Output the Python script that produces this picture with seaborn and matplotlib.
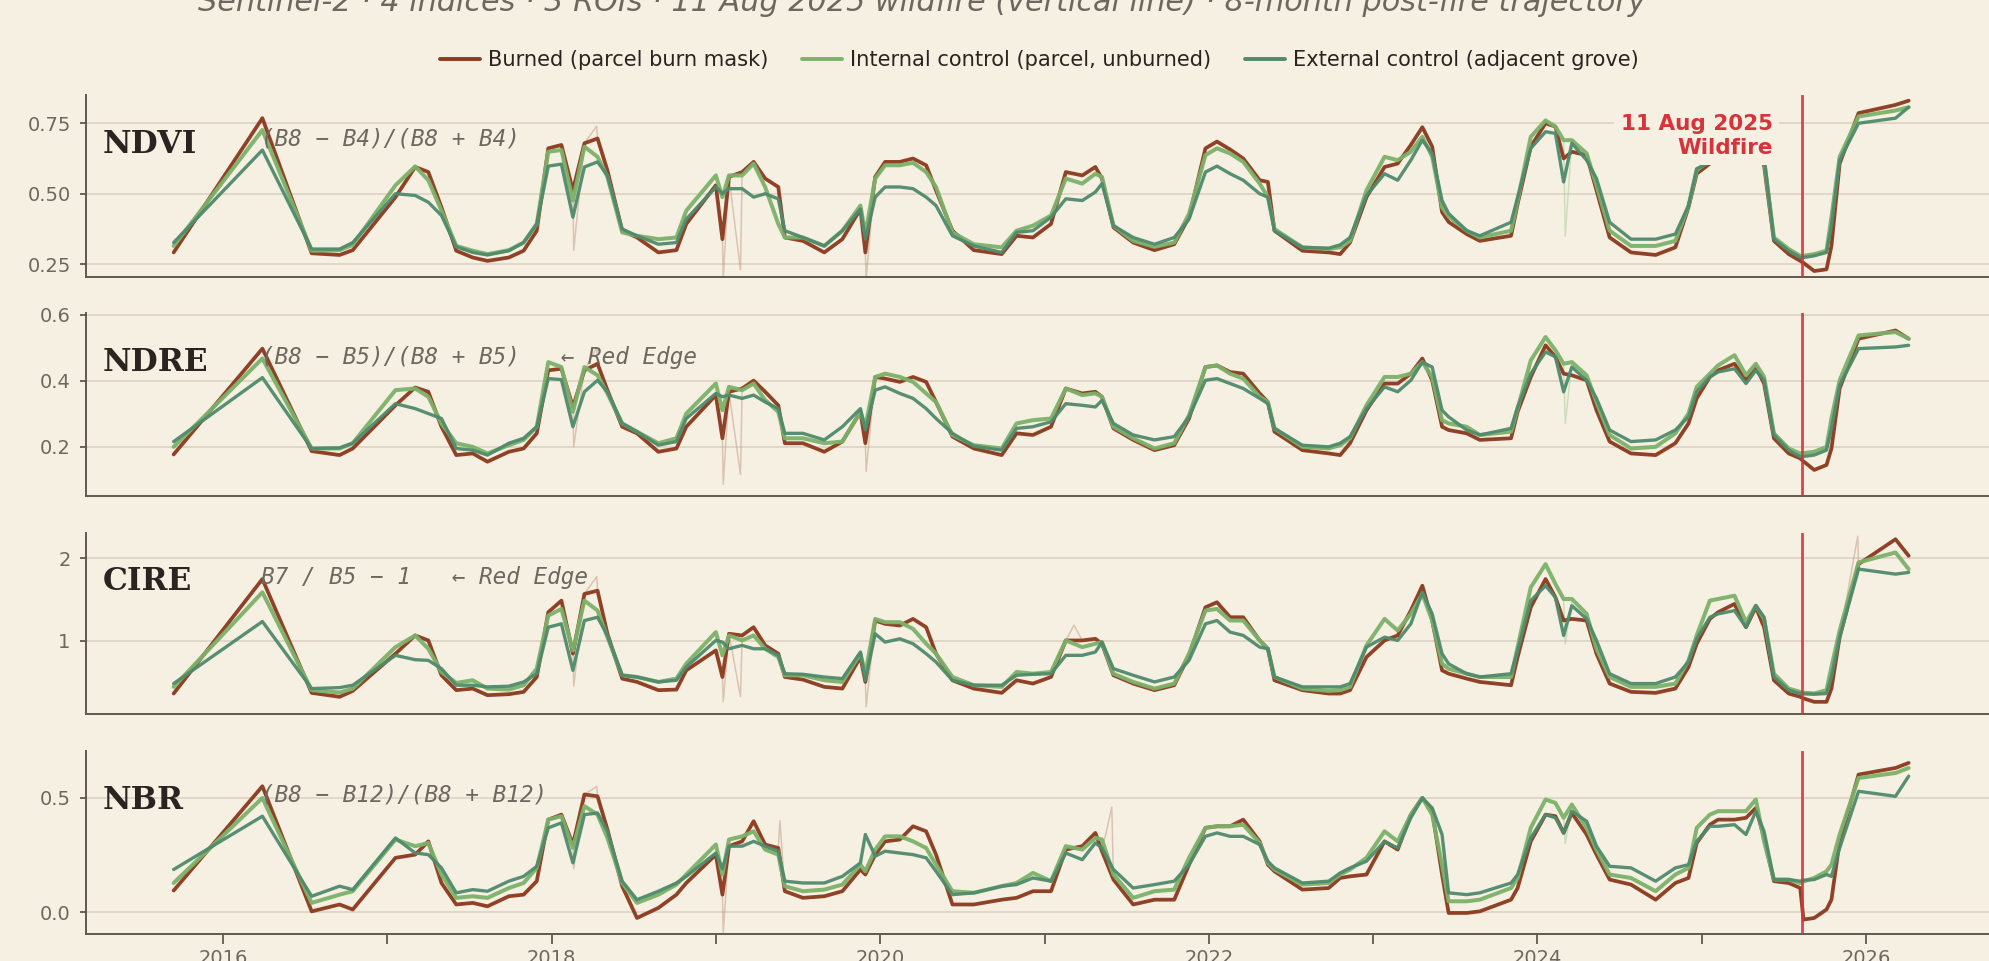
import pandas as pd
import matplotlib
matplotlib.use("Agg")
import matplotlib.pyplot as plt
import matplotlib.dates as mdates
import matplotlib.transforms as mtransforms
from matplotlib.lines import Line2D
import seaborn as sns

# ---------------------------------------------------------------- data
years = [
    2015.70, 2016.24, 2016.54, 2016.71, 2016.79, 2017.05, 2017.17, 2017.25, 2017.33, 2017.42,
    2017.52, 2017.61, 2017.74, 2017.83, 2017.91, 2017.98, 2018.06, 2018.13, 2018.20, 2018.28,
    2018.34, 2018.43, 2018.52, 2018.65, 2018.76, 2018.82, 2019.00, 2019.04, 2019.08, 2019.16,
    2019.23, 2019.30, 2019.38, 2019.42, 2019.53, 2019.66, 2019.77, 2019.88, 2019.91, 2019.97,
    2020.03, 2020.12, 2020.20, 2020.28, 2020.34, 2020.44, 2020.57, 2020.74, 2020.83, 2020.93,
    2021.04, 2021.13, 2021.23, 2021.31, 2021.35, 2021.42, 2021.54, 2021.67, 2021.79, 2021.88,
    2021.98, 2022.05, 2022.13, 2022.21, 2022.31, 2022.36, 2022.40, 2022.57, 2022.73, 2022.80,
    2022.86, 2022.96, 2023.07, 2023.15, 2023.23, 2023.30, 2023.36, 2023.42, 2023.46, 2023.57,
    2023.65, 2023.84, 2023.88, 2023.96, 2024.05, 2024.11, 2024.16, 2024.21, 2024.30, 2024.36,
    2024.44, 2024.57, 2024.72, 2024.84, 2024.92, 2024.97, 2025.05, 2025.10, 2025.20, 2025.27,
    2025.33, 2025.38, 2025.44, 2025.53, 2025.60, 2025.62, 2025.685, 2025.76, 2025.79, 2025.84,
    2025.955, 2026.18, 2026.26,
]

ndvi_burned = [
    0.292, 0.768, 0.289, 0.283, 0.300, 0.488, 0.595, 0.577, 0.452, 0.298,
    0.274, 0.262, 0.274, 0.298, 0.369, 0.661, 0.673, 0.512, 0.679, 0.696,
    0.583, 0.369, 0.345, 0.292, 0.300, 0.393, 0.530, 0.339, 0.560, 0.577,
    0.613, 0.554, 0.524, 0.345, 0.333, 0.292, 0.339, 0.446, 0.292, 0.560,
    0.613, 0.613, 0.625, 0.601, 0.512, 0.369, 0.300, 0.286, 0.351, 0.345,
    0.393, 0.577, 0.565, 0.595, 0.554, 0.381, 0.327, 0.300, 0.321, 0.417,
    0.661, 0.685, 0.657, 0.625, 0.548, 0.542, 0.369, 0.298, 0.292, 0.286,
    0.327, 0.488, 0.595, 0.607, 0.673, 0.736, 0.667, 0.435, 0.400, 0.357,
    0.333, 0.351, 0.464, 0.667, 0.750, 0.738, 0.625, 0.649, 0.637, 0.512,
    0.345, 0.292, 0.283, 0.310, 0.452, 0.571, 0.607, 0.630, 0.680, 0.630,
    0.670, 0.600, 0.333, 0.286, 0.262, 0.255, 0.226, 0.232, 0.315, 0.607,
    0.786, 0.815, 0.830,
]
ndvi_internal = [
    0.315, 0.726, 0.298, 0.300, 0.319, 0.530, 0.597, 0.548, 0.440, 0.315,
    0.298, 0.286, 0.300, 0.327, 0.393, 0.649, 0.655, 0.476, 0.667, 0.631,
    0.560, 0.363, 0.351, 0.339, 0.345, 0.440, 0.565, 0.488, 0.565, 0.565,
    0.607, 0.524, 0.393, 0.345, 0.345, 0.315, 0.369, 0.458, 0.357, 0.554,
    0.601, 0.601, 0.610, 0.577, 0.524, 0.363, 0.321, 0.310, 0.369, 0.387,
    0.423, 0.554, 0.536, 0.571, 0.560, 0.387, 0.333, 0.312, 0.327, 0.429,
    0.637, 0.661, 0.643, 0.613, 0.536, 0.488, 0.375, 0.310, 0.304, 0.310,
    0.333, 0.512, 0.631, 0.619, 0.649, 0.702, 0.631, 0.452, 0.420, 0.369,
    0.345, 0.369, 0.476, 0.702, 0.760, 0.738, 0.690, 0.690, 0.643, 0.530,
    0.369, 0.315, 0.315, 0.333, 0.458, 0.583, 0.620, 0.650, 0.700, 0.640,
    0.690, 0.620, 0.345, 0.304, 0.280, 0.280, 0.286, 0.298, 0.417, 0.631,
    0.774, 0.795, 0.807,
]
ndvi_external = [
    0.327, 0.655, 0.304, 0.304, 0.327, 0.500, 0.494, 0.470, 0.423, 0.312,
    0.292, 0.283, 0.298, 0.327, 0.393, 0.598, 0.605, 0.417, 0.595, 0.613,
    0.565, 0.375, 0.351, 0.321, 0.327, 0.410, 0.524, 0.500, 0.518, 0.518,
    0.488, 0.500, 0.482, 0.369, 0.345, 0.315, 0.369, 0.446, 0.339, 0.488,
    0.524, 0.524, 0.518, 0.488, 0.458, 0.351, 0.315, 0.292, 0.363, 0.369,
    0.417, 0.482, 0.476, 0.506, 0.536, 0.387, 0.345, 0.321, 0.345, 0.410,
    0.577, 0.598, 0.571, 0.548, 0.500, 0.488, 0.369, 0.310, 0.307, 0.319,
    0.345, 0.494, 0.571, 0.548, 0.619, 0.690, 0.643, 0.476, 0.430, 0.369,
    0.351, 0.399, 0.488, 0.661, 0.720, 0.714, 0.542, 0.679, 0.619, 0.554,
    0.399, 0.339, 0.339, 0.357, 0.458, 0.589, 0.610, 0.640, 0.670, 0.630,
    0.670, 0.630, 0.339, 0.298, 0.274, 0.274, 0.280, 0.292, 0.387, 0.619,
    0.750, 0.768, 0.807,
]

ndre_burned = [
    0.176, 0.497, 0.186, 0.174, 0.194, 0.325, 0.379, 0.366, 0.260, 0.174,
    0.179, 0.154, 0.184, 0.194, 0.240, 0.431, 0.436, 0.320, 0.431, 0.451,
    0.371, 0.260, 0.240, 0.184, 0.194, 0.260, 0.356, 0.225, 0.366, 0.376,
    0.400, 0.366, 0.325, 0.210, 0.210, 0.184, 0.215, 0.305, 0.210, 0.411,
    0.406, 0.396, 0.411, 0.396, 0.335, 0.230, 0.194, 0.174, 0.240, 0.235,
    0.260, 0.376, 0.361, 0.366, 0.351, 0.255, 0.220, 0.189, 0.204, 0.285,
    0.441, 0.446, 0.426, 0.421, 0.361, 0.335, 0.245, 0.189, 0.179, 0.174,
    0.210, 0.310, 0.391, 0.391, 0.421, 0.467, 0.401, 0.260, 0.250, 0.240,
    0.220, 0.225, 0.305, 0.411, 0.507, 0.472, 0.421, 0.416, 0.401, 0.310,
    0.215, 0.179, 0.174, 0.210, 0.270, 0.346, 0.411, 0.431, 0.451, 0.401,
    0.441, 0.391, 0.225, 0.179, 0.164, 0.155, 0.129, 0.144, 0.194, 0.376,
    0.527, 0.552, 0.527,
]
ndre_internal = [
    0.199, 0.467, 0.194, 0.194, 0.210, 0.371, 0.376, 0.351, 0.270, 0.210,
    0.199, 0.179, 0.204, 0.220, 0.260, 0.456, 0.441, 0.305, 0.441, 0.416,
    0.361, 0.270, 0.245, 0.210, 0.225, 0.300, 0.391, 0.310, 0.381, 0.371,
    0.391, 0.341, 0.305, 0.225, 0.225, 0.210, 0.215, 0.305, 0.260, 0.411,
    0.421, 0.411, 0.396, 0.361, 0.335, 0.235, 0.204, 0.194, 0.270, 0.280,
    0.285, 0.376, 0.356, 0.361, 0.351, 0.260, 0.225, 0.194, 0.210, 0.295,
    0.441, 0.446, 0.421, 0.406, 0.351, 0.335, 0.255, 0.199, 0.194, 0.204,
    0.225, 0.325, 0.411, 0.411, 0.421, 0.456, 0.411, 0.280, 0.270, 0.260,
    0.235, 0.245, 0.315, 0.461, 0.532, 0.492, 0.451, 0.456, 0.416, 0.335,
    0.235, 0.194, 0.199, 0.240, 0.300, 0.381, 0.421, 0.446, 0.477, 0.416,
    0.451, 0.411, 0.240, 0.194, 0.179, 0.180, 0.184, 0.199, 0.285, 0.401,
    0.537, 0.547, 0.527,
]
ndre_external = [
    0.215, 0.409, 0.194, 0.196, 0.210, 0.330, 0.315, 0.300, 0.285, 0.194,
    0.189, 0.174, 0.210, 0.225, 0.260, 0.406, 0.403, 0.260, 0.366, 0.401,
    0.366, 0.270, 0.245, 0.204, 0.215, 0.285, 0.361, 0.351, 0.356, 0.346,
    0.356, 0.335, 0.315, 0.240, 0.240, 0.220, 0.260, 0.315, 0.250, 0.371,
    0.381, 0.361, 0.346, 0.315, 0.285, 0.240, 0.201, 0.189, 0.255, 0.260,
    0.275, 0.330, 0.325, 0.320, 0.340, 0.270, 0.235, 0.220, 0.230, 0.290,
    0.401, 0.406, 0.391, 0.376, 0.346, 0.330, 0.255, 0.204, 0.199, 0.210,
    0.230, 0.315, 0.381, 0.366, 0.401, 0.456, 0.441, 0.310, 0.290, 0.250,
    0.235, 0.255, 0.320, 0.421, 0.487, 0.472, 0.366, 0.441, 0.401, 0.346,
    0.250, 0.215, 0.220, 0.250, 0.290, 0.366, 0.411, 0.426, 0.436, 0.391,
    0.431, 0.401, 0.235, 0.189, 0.169, 0.170, 0.174, 0.189, 0.255, 0.386,
    0.497, 0.502, 0.507,
]

cire_burned = [
    0.359, 1.750, 0.367, 0.319, 0.391, 0.843, 1.065, 1.004, 0.581, 0.400,
    0.419, 0.339, 0.351, 0.379, 0.560, 1.347, 1.488, 0.843, 1.569, 1.609,
    1.085, 0.540, 0.500, 0.400, 0.407, 0.641, 0.883, 0.560, 1.085, 1.065,
    1.165, 0.944, 0.843, 0.560, 0.528, 0.440, 0.419, 0.802, 0.500, 1.246,
    1.206, 1.185, 1.266, 1.165, 0.843, 0.520, 0.419, 0.367, 0.520, 0.480,
    0.560, 1.004, 1.004, 1.024, 0.964, 0.581, 0.480, 0.400, 0.460, 0.823,
    1.407, 1.468, 1.286, 1.286, 1.004, 0.903, 0.520, 0.400, 0.359, 0.359,
    0.400, 0.802, 1.004, 1.065, 1.367, 1.669, 1.246, 0.641, 0.600, 0.540,
    0.500, 0.460, 0.802, 1.407, 1.750, 1.528, 1.246, 1.266, 1.246, 0.843,
    0.480, 0.379, 0.367, 0.419, 0.681, 0.964, 1.266, 1.347, 1.448, 1.165,
    1.407, 1.165, 0.520, 0.359, 0.319, 0.300, 0.258, 0.258, 0.419, 1.044,
    1.931, 2.234, 2.032,
]
cire_internal = [
    0.440, 1.589, 0.400, 0.371, 0.419, 0.923, 1.065, 0.903, 0.621, 0.488,
    0.520, 0.419, 0.407, 0.460, 0.661, 1.306, 1.387, 0.883, 1.488, 1.367,
    1.044, 0.581, 0.560, 0.500, 0.540, 0.722, 1.105, 0.823, 1.065, 1.004,
    1.065, 0.903, 0.802, 0.581, 0.581, 0.520, 0.500, 0.843, 0.600, 1.266,
    1.226, 1.226, 1.145, 0.964, 0.843, 0.560, 0.460, 0.440, 0.621, 0.600,
    0.621, 1.004, 0.923, 0.964, 0.984, 0.600, 0.500, 0.419, 0.480, 0.843,
    1.367, 1.387, 1.246, 1.246, 1.004, 0.903, 0.560, 0.419, 0.391, 0.400,
    0.440, 0.944, 1.266, 1.125, 1.327, 1.569, 1.246, 0.722, 0.660, 0.600,
    0.560, 0.560, 0.923, 1.649, 1.931, 1.690, 1.508, 1.508, 1.327, 0.903,
    0.560, 0.440, 0.440, 0.480, 0.762, 1.065, 1.488, 1.508, 1.548, 1.226,
    1.427, 1.266, 0.600, 0.419, 0.379, 0.370, 0.359, 0.400, 0.681, 1.125,
    1.952, 2.073, 1.871,
]
cire_external = [
    0.480, 1.234, 0.419, 0.431, 0.460, 0.823, 0.770, 0.762, 0.661, 0.460,
    0.460, 0.440, 0.448, 0.500, 0.600, 1.165, 1.206, 0.641, 1.246, 1.286,
    1.065, 0.581, 0.560, 0.500, 0.520, 0.681, 1.004, 0.984, 0.903, 0.944,
    0.903, 0.903, 0.823, 0.600, 0.593, 0.560, 0.540, 0.863, 0.520, 1.085,
    0.984, 1.024, 0.964, 0.843, 0.742, 0.520, 0.460, 0.460, 0.581, 0.593,
    0.600, 0.823, 0.823, 0.863, 0.984, 0.661, 0.581, 0.500, 0.560, 0.762,
    1.206, 1.246, 1.105, 1.065, 0.923, 0.903, 0.560, 0.440, 0.440, 0.440,
    0.480, 0.923, 1.044, 1.004, 1.206, 1.589, 1.327, 0.843, 0.720, 0.600,
    0.560, 0.600, 0.883, 1.488, 1.669, 1.528, 1.065, 1.427, 1.266, 1.004,
    0.600, 0.480, 0.480, 0.560, 0.742, 1.024, 1.286, 1.327, 1.367, 1.165,
    1.427, 1.286, 0.560, 0.400, 0.359, 0.355, 0.351, 0.359, 0.560, 1.044,
    1.871, 1.810, 1.831,
]

nbr_burned = [
    0.095, 0.551, 0.004, 0.034, 0.012, 0.238, 0.252, 0.310, 0.128, 0.034,
    0.041, 0.026, 0.070, 0.077, 0.136, 0.405, 0.427, 0.296, 0.515, 0.507,
    0.362, 0.114, -0.025, 0.019, 0.077, 0.128, 0.252, 0.077, 0.289, 0.310,
    0.398, 0.296, 0.281, 0.092, 0.063, 0.070, 0.092, 0.187, 0.165, 0.252,
    0.310, 0.318, 0.376, 0.354, 0.252, 0.034, 0.034, 0.055, 0.063, 0.092,
    0.092, 0.274, 0.289, 0.347, 0.267, 0.143, 0.034, 0.055, 0.055, 0.208,
    0.369, 0.376, 0.376, 0.405, 0.310, 0.208, 0.179, 0.099, 0.106, 0.150,
    0.157, 0.165, 0.310, 0.274, 0.427, 0.500, 0.442, 0.165, -0.003, -0.003,
    0.004, 0.055, 0.106, 0.310, 0.427, 0.420, 0.347, 0.434, 0.340, 0.252,
    0.143, 0.121, 0.055, 0.128, 0.150, 0.303, 0.383, 0.405, 0.405, 0.413,
    0.456, 0.325, 0.136, 0.128, 0.106, -0.032, -0.025, 0.012, 0.055, 0.310,
    0.602, 0.631, 0.653,
]
nbr_internal = [
    0.128, 0.500, 0.041, 0.077, 0.092, 0.318, 0.289, 0.303, 0.165, 0.063,
    0.070, 0.063, 0.106, 0.128, 0.194, 0.405, 0.420, 0.281, 0.464, 0.427,
    0.325, 0.128, 0.041, 0.077, 0.121, 0.165, 0.296, 0.165, 0.318, 0.332,
    0.354, 0.274, 0.252, 0.114, 0.092, 0.099, 0.121, 0.208, 0.179, 0.274,
    0.332, 0.332, 0.310, 0.281, 0.208, 0.092, 0.085, 0.114, 0.128, 0.172,
    0.136, 0.289, 0.274, 0.325, 0.318, 0.165, 0.063, 0.092, 0.099, 0.238,
    0.369, 0.376, 0.376, 0.383, 0.303, 0.216, 0.187, 0.121, 0.128, 0.165,
    0.187, 0.238, 0.354, 0.310, 0.427, 0.500, 0.427, 0.208, 0.048, 0.048,
    0.055, 0.106, 0.150, 0.369, 0.493, 0.478, 0.413, 0.471, 0.369, 0.274,
    0.165, 0.150, 0.092, 0.165, 0.194, 0.369, 0.427, 0.442, 0.442, 0.442,
    0.493, 0.310, 0.143, 0.143, 0.128, 0.135, 0.150, 0.179, 0.208, 0.340,
    0.587, 0.609, 0.631,
]
nbr_external = [
    0.187, 0.420, 0.070, 0.114, 0.099, 0.325, 0.259, 0.252, 0.194, 0.085,
    0.099, 0.092, 0.136, 0.157, 0.201, 0.369, 0.391, 0.216, 0.427, 0.434,
    0.354, 0.136, 0.055, 0.092, 0.128, 0.157, 0.259, 0.190, 0.289, 0.289,
    0.310, 0.289, 0.267, 0.136, 0.128, 0.128, 0.157, 0.216, 0.340, 0.245,
    0.267, 0.259, 0.252, 0.238, 0.179, 0.077, 0.085, 0.114, 0.121, 0.150,
    0.136, 0.259, 0.230, 0.303, 0.281, 0.187, 0.106, 0.121, 0.136, 0.208,
    0.332, 0.347, 0.332, 0.332, 0.296, 0.223, 0.194, 0.128, 0.136, 0.172,
    0.194, 0.223, 0.310, 0.281, 0.413, 0.500, 0.456, 0.340, 0.085, 0.077,
    0.085, 0.128, 0.165, 0.325, 0.427, 0.413, 0.347, 0.442, 0.398, 0.289,
    0.201, 0.194, 0.136, 0.194, 0.208, 0.310, 0.376, 0.376, 0.383, 0.340,
    0.442, 0.354, 0.143, 0.143, 0.136, 0.140, 0.143, 0.165, 0.157, 0.281,
    0.529, 0.507, 0.595,
]

# single-scene outliers seen in the faint raw traces
ndvi_spike_years = [2018.135, 2018.275, 2019.045, 2019.15, 2019.915]
ndvi_spike_vals = [0.30, 0.74, 0.20, 0.23, 0.20]
ndre_spike_years = [2018.135, 2018.275, 2019.045, 2019.15, 2019.915]
ndre_spike_vals = [0.20, 0.50, 0.085, 0.115, 0.125]
cire_spike_years = [2018.135, 2018.275, 2019.045, 2019.15, 2019.915, 2021.18, 2025.95]
cire_spike_vals = [0.45, 1.78, 0.26, 0.32, 0.20, 1.19, 2.27]
nbr_spike_years = [2018.135, 2018.275, 2019.045, 2019.39, 2021.41]
nbr_spike_vals = [0.19, 0.55, -0.09, 0.40, 0.46]

ctrl_spike_years = [2024.17]
ndvi_ctrl_spike = [0.35]
ndre_ctrl_spike = [0.27]
cire_ctrl_spike = [0.96]
nbr_ctrl_spike = [0.30]

roi_labels = ["Burned (parcel burn mask)", "Internal control (parcel, unburned)",
              "External control (adjacent grove)"]
index_names = ["NDVI", "NDRE", "CIRE", "NBR"]
formulas = ["(B8 − B4)/(B8 + B4)", "(B8 − B5)/(B8 + B5)   ← Red Edge",
            "B7 / B5 − 1   ← Red Edge", "(B8 − B12)/(B8 + B12)"]
ylims = [(0.205, 0.85), (0.05, 0.605), (0.11, 2.31), (-0.095, 0.705)]
yticks = [[0.25, 0.50, 0.75], [0.2, 0.4, 0.6], [1, 2], [0.0, 0.5]]
fire_year = 2025.61

# ---------------------------------------------------------------- style
BG = "#f6f0e3"
GRID = "#dcd3c3"
SPINE = "#5f5951"
MUTED = "#6d675f"
INK = "#2a2420"
RED = "#d7333a"
palette = {roi_labels[0]: "#8b3a1e", roi_labels[1]: "#7db26a", roi_labels[2]: "#4f8a6c"}
widths = {roi_labels[0]: 2.7, roi_labels[1]: 2.9, roi_labels[2]: 2.4}

sns.set_theme(style="white", rc={"axes.facecolor": BG, "figure.facecolor": BG})
plt.rcParams["font.family"] = ["DejaVu Sans"]


def to_dates(ys):
    base = pd.Timestamp("2015-01-01")
    return [base + pd.Timedelta(days=(y - 2015) * 365.25) for y in ys]


dates = to_dates(years)
fire_date = to_dates([fire_year])[0]

series = {
    "NDVI": (ndvi_burned, ndvi_internal, ndvi_external, ndvi_spike_years, ndvi_spike_vals, ndvi_ctrl_spike),
    "NDRE": (ndre_burned, ndre_internal, ndre_external, ndre_spike_years, ndre_spike_vals, ndre_ctrl_spike),
    "CIRE": (cire_burned, cire_internal, cire_external, cire_spike_years, cire_spike_vals, cire_ctrl_spike),
    "NBR": (nbr_burned, nbr_internal, nbr_external, nbr_spike_years, nbr_spike_vals, nbr_ctrl_spike),
}

fig = plt.figure(figsize=(19.89, 9.61), dpi=100)
panel_boxes = [(0.7118, 0.1893), (0.4839, 0.1904), (0.2570, 0.1884), (0.0281, 0.1904)]

axes = []
for i, name in enumerate(index_names):
    bottom, height = panel_boxes[i]
    ax = fig.add_axes([0.0432, bottom, 0.9568, height], sharex=axes[0] if axes else None)
    axes.append(ax)
    burned, internal, external, spk_y, spk_v, ctrl_spk = series[name]

    # faint raw traces
    raw_b = pd.DataFrame({"date": dates + to_dates(spk_y), "value": burned + spk_v})
    raw_i = pd.DataFrame({"date": dates + to_dates(ctrl_spike_years), "value": internal + ctrl_spk})
    sns.lineplot(data=raw_b, x="date", y="value", estimator=None, color="#c4a088",
                 lw=1.1, alpha=0.55, ax=ax, zorder=1)
    sns.lineplot(data=raw_i, x="date", y="value", estimator=None, color="#9cc98c",
                 lw=1.1, alpha=0.45, ax=ax, zorder=1)

    df = pd.DataFrame({
        "date": dates * 3,
        "value": burned + internal + external,
        "roi": [roi_labels[0]] * len(dates) + [roi_labels[1]] * len(dates) + [roi_labels[2]] * len(dates),
    })
    for roi in roi_labels:
        sns.lineplot(data=df[df["roi"] == roi], x="date", y="value", estimator=None,
                     color=palette[roi], lw=widths[roi], alpha=0.95, ax=ax, zorder=3)

    ax.axvline(fire_date, color=RED, lw=2.0, alpha=0.9, zorder=5)

    ax.set_ylim(*ylims[i])
    ax.set_yticks(yticks[i])
    ax.set_xlabel("")
    ax.set_ylabel("")
    ax.grid(axis="y", color=GRID, lw=1.2)
    ax.set_axisbelow(True)
    for s in ["top", "right"]:
        ax.spines[s].set_visible(False)
    for s in ["left", "bottom"]:
        ax.spines[s].set_color(SPINE)
        ax.spines[s].set_linewidth(1.4)
    ax.tick_params(axis="y", length=4, width=1.3, color=SPINE, labelsize=14,
                   labelcolor=MUTED, pad=7, left=True)

    ax.text(0.009, 0.815, name, transform=ax.transAxes, ha="left", va="top",
            fontsize=22.5, fontweight="bold", family="DejaVu Serif", color=INK, zorder=6)
    ax.text(0.092, 0.82, formulas[i], transform=ax.transAxes, ha="left", va="top",
            fontsize=16.3, style="italic", family="DejaVu Sans Mono", color=MUTED, zorder=6)

for ax in axes[:-1]:
    ax.tick_params(axis="x", bottom=False, labelbottom=False)

bx = axes[-1]
bx.set_xlim(to_dates([2015.166])[0], to_dates([2026.749])[0])
bx.xaxis.set_major_locator(mdates.YearLocator(2))
bx.xaxis.set_major_formatter(mdates.DateFormatter("%Y"))
bx.xaxis.set_minor_locator(mdates.YearLocator(1))
bx.tick_params(axis="x", which="both", bottom=True, length=7, width=1.3, color=SPINE,
               labelsize=14, labelcolor=MUTED, pad=4)

# wildfire label on top panel
top = axes[0]
trans = mtransforms.blended_transform_factory(top.transData, top.transAxes)
top.annotate("11 Aug 2025\nWildfire", xy=(mdates.date2num(fire_date), 0.895), xycoords=trans,
             xytext=(-21, 0), textcoords="offset points", ha="right", va="top",
             multialignment="right", fontsize=15.5, fontweight="bold", color=RED, zorder=7,
             linespacing=1.25,
             bbox=dict(boxstyle="square,pad=0.3", fc=BG, ec="none"))

handles = [Line2D([0], [0], color=palette[r], lw=2.8) for r in roi_labels]
fig.legend(handles, roi_labels, loc="center", bbox_to_anchor=(0.5226, 0.9376), ncol=3,
           frameon=False, fontsize=15.1, handlelength=1.9, handletextpad=0.4,
           columnspacing=1.6, labelcolor=INK)

fig.text(0.4637, 1 - 11 / 961,
         "Sentinel-2 · 4 indices · 3 ROIs · 11 Aug 2025 wildfire (vertical line) · 8-month post-fire trajectory",
         ha="center", va="baseline", fontsize=21.8, style="italic", color=MUTED)

fig.savefig("out.png", dpi=100, facecolor=BG)
